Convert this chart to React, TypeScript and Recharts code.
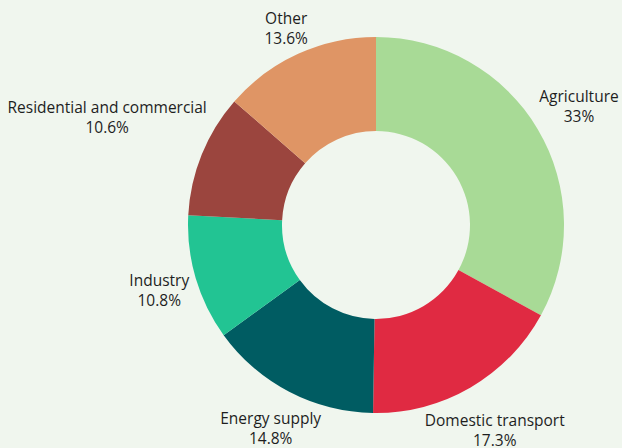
import React from 'react';
import { PieChart, Pie, Cell } from 'recharts';

const sectors = ['Agriculture', 'Domestic transport', 'Energy supply', 'Industry', 'Residential and commercial', 'Other'];
const shares = [33, 17.3, 14.8, 10.8, 10.6, 13.6];
const COLORS = ['#a8da96', '#e02a42', '#005c62', '#22c493', '#9b453e', '#df9565'];

const data = sectors.map((name, i) => ({ name, value: shares[i] }));

const FONT = '15.5px "Open Sans"';
const RAD = Math.PI / 180;

let ctx: CanvasRenderingContext2D | null = null;
const measure = (s: string) => {
    if (!ctx) ctx = document.createElement('canvas').getContext('2d');
    if (!ctx) return s.length * 7.7;
    ctx.font = FONT;
    return ctx.measureText(s).width;
};

// push label outward along the mid angle until its box clears the ring
const renderLabel = (props: any) => {
    const { cx, cy, midAngle, outerRadius, name, value } = props;
    const pct = `${value}%`;
    const halfW = Math.max(measure(name), measure(pct)) / 2;
    const halfH = 18;
    const dx = Math.cos(-midAngle * RAD);
    const dy = Math.sin(-midAngle * RAD);
    let r = outerRadius;
    for (; r < outerRadius + 200; r++) {
        const px = Math.max(0, Math.abs(dx * r) - halfW);
        const py = Math.max(0, Math.abs(dy * r) - halfH);
        if (Math.hypot(px, py) >= outerRadius + 4) break;
    }
    const x = cx + dx * r;
    const y = cy + dy * r;
    return (
        <text x={x} y={y} textAnchor="middle" fill="#1e1e1e" style={{ font: FONT }}>
            <tspan x={x} dy={-3}>{name}</tspan>
            <tspan x={x} dy={20}>{pct}</tspan>
        </text>
    );
};

const App: React.FC = () => {
    return (
        <div style={{ position: 'fixed', left: 0, top: 0, width: 622, height: 448, background: '#f0f6ee' }}>
            <PieChart width={622} height={448} margin={{ top: 0, right: 0, bottom: 0, left: 0 }}>
                <Pie
                    data={data}
                    dataKey="value"
                    nameKey="name"
                    cx={376}
                    cy={225}
                    innerRadius={94}
                    outerRadius={188}
                    startAngle={90}
                    endAngle={-270}
                    stroke="none"
                    label={renderLabel}
                    labelLine={false}
                    isAnimationActive={false}
                >
                    {data.map((_, i) => (
                        <Cell key={`cell-${i}`} fill={COLORS[i]} />
                    ))}
                </Pie>
            </PieChart>
        </div>
    );
};

export default App;
